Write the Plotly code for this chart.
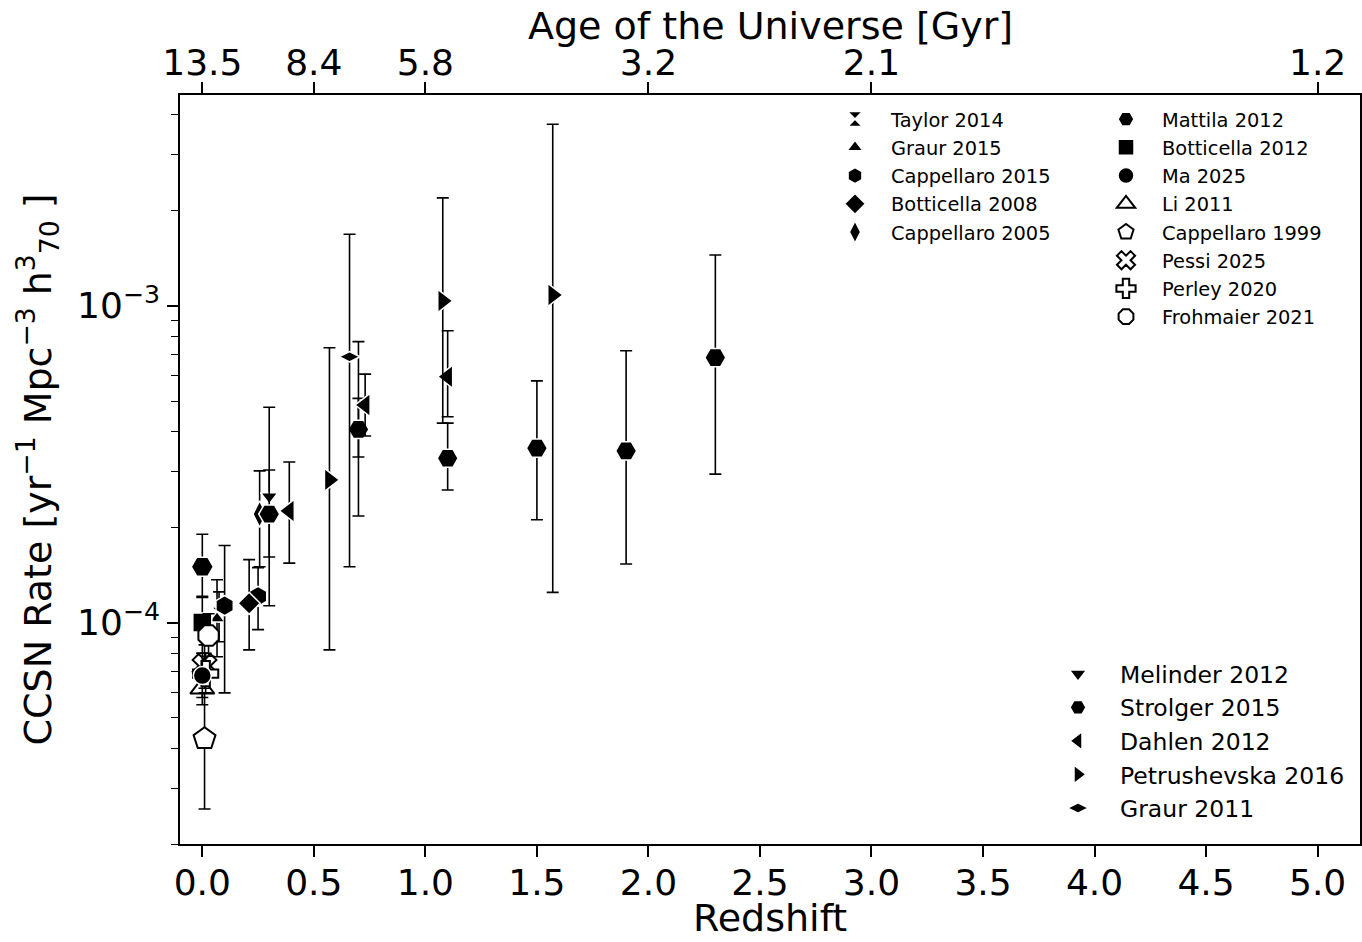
import math
import plotly.graph_objects as go

# Core-collapse supernova rate measurements, in units of 1e-4 yr^-1 Mpc^-3 h70^3.
# For each survey: redshift, rate, upper end and lower end of the error bar.
UNIT = 1e-4

taylor2014_z = [0.075]
taylor2014_rate = [1.06]
taylor2014_hi = [1.25]
taylor2014_lo = [0.87]

graur2015_z = [0.066]
graur2015_rate = [1.03]
graur2015_hi = [1.365]
graur2015_lo = [0.78]

cappellaro2015_z = [0.1, 0.25]
cappellaro2015_rate = [1.13, 1.21]
cappellaro2015_hi = [1.75, 1.49]
cappellaro2015_lo = [0.60, 0.95]

botticella2008_z = [0.21]
botticella2008_rate = [1.15]
botticella2008_hi = [1.58]
botticella2008_lo = [0.82]

cappellaro2005_z = [0.257]
cappellaro2005_rate = [2.20]
cappellaro2005_hi = [3.01]
cappellaro2005_lo = [1.50]

mattila2012_z = [0.0]
mattila2012_rate = [1.50]
mattila2012_hi = [1.90]
mattila2012_lo = [1.21]

botticella2012_z = [0.0]
botticella2012_rate = [1.00]
botticella2012_hi = [1.20]
botticella2012_lo = [0.80]

ma2025_z = [0.0]
ma2025_rate = [0.68]
ma2025_hi = [0.80]
ma2025_lo = [0.58]

li2011_z = [0.0]
li2011_rate = [0.62]
li2011_hi = [0.69]
li2011_lo = [0.55]

cappellaro1999_z = [0.01]
cappellaro1999_rate = [0.43]
cappellaro1999_hi = [0.60]
cappellaro1999_lo = [0.258]

pessi2025_z = [0.01]
pessi2025_rate = [0.73]
pessi2025_hi = [0.85]
pessi2025_lo = [0.62]

perley2020_z = [0.015]
perley2020_rate = [0.69]
perley2020_hi = [0.80]
perley2020_lo = [0.60]

frohmaier2021_z = [0.028]
frohmaier2021_rate = [0.91]
frohmaier2021_hi = [1.066]
frohmaier2021_lo = [0.783]

melinder2012_z = [0.3, 0.7]
melinder2012_rate = [2.50, 4.20]
melinder2012_hi = [3.03, 7.70]
melinder2012_lo = [1.61, 2.17]

strolger2015_z = [0.3, 0.7, 1.1, 1.5, 1.9, 2.3]
strolger2015_rate = [2.20, 4.07, 3.30, 3.55, 3.48, 6.86]
strolger2015_hi = [4.78, 5.10, 4.26, 5.79, 7.21, 14.45]
strolger2015_lo = [1.13, 3.33, 2.62, 2.11, 1.53, 2.94]

dahlen2012_z = [0.39, 0.73, 1.1]
dahlen2012_rate = [2.25, 4.86, 5.97]
dahlen2012_hi = [3.21, 6.08, 8.34]
dahlen2012_lo = [1.54, 3.88, 4.46]

petrushevska2016_z = [0.57, 1.078, 1.571]
petrushevska2016_rate = [2.82, 10.35, 10.81]
petrushevska2016_hi = [7.37, 21.9, 37.4]
petrushevska2016_lo = [0.82, 4.26, 1.245]

graur2011_z = [0.66]
graur2011_rate = [6.9]
graur2011_hi = [16.8]
graur2011_lo = [1.5]

# Top axis: redshift positions and the corresponding age of the Universe
age_tick_z = [0.0, 0.5, 1.0, 2.0, 3.0, 5.0]
age_tick_text = ["13.5", "8.4", "5.8", "3.2", "2.1", "1.2"]

redshift_ticks = [0.0, 0.5, 1.0, 1.5, 2.0, 2.5, 3.0, 3.5, 4.0, 4.5, 5.0]
rate_ticks = [1e-4, 1e-3]
rate_tick_text = ["10<sup>−4</sup>", "10<sup>−3</sup>"]

FONT = "DejaVu Sans"
fig = go.Figure()


def add_series(name, rank, z, rate, hi, lo, symbol, size, filled=True, legend="legend", xaxis="x"):
    y = [r * UNIT for r in rate]
    plus = [(h - r) * UNIT for h, r in zip(hi, rate)]
    minus = [(r - l) * UNIT for r, l in zip(rate, lo)]
    if filled:
        marker = dict(symbol=symbol, size=size, color="black",
                      line=dict(color="white", width=1.5))
    else:
        marker = dict(symbol=symbol, size=size, color="white",
                      line=dict(color="black", width=2))
    fig.add_trace(go.Scatter(
        x=z, y=y, name=name, mode="markers", marker=marker, xaxis=xaxis,
        error_y=dict(type="data", symmetric=False, array=plus, arrayminus=minus,
                     color="black", thickness=1.6, width=6),
        legend=legend, legendrank=rank,
    ))


add_series("Taylor 2014", 1, taylor2014_z, taylor2014_rate, taylor2014_hi, taylor2014_lo, "hourglass", 15)
add_series("Graur 2015", 2, graur2015_z, graur2015_rate, graur2015_hi, graur2015_lo, "triangle-up", 14)
add_series("Cappellaro 2015", 3, cappellaro2015_z, cappellaro2015_rate, cappellaro2015_hi, cappellaro2015_lo, "hexagon", 20)
add_series("Botticella 2008", 4, botticella2008_z, botticella2008_rate, botticella2008_hi, botticella2008_lo, "diamond", 17)
add_series("Cappellaro 2005", 5, cappellaro2005_z, cappellaro2005_rate, cappellaro2005_hi, cappellaro2005_lo, "diamond-tall", 19)

add_series("Mattila 2012", 6, mattila2012_z, mattila2012_rate, mattila2012_hi, mattila2012_lo, "hexagon2", 22, legend="legend2")
add_series("Botticella 2012", 7, botticella2012_z, botticella2012_rate, botticella2012_hi, botticella2012_lo, "square", 19, legend="legend2")
add_series("Li 2011", 9, li2011_z, li2011_rate, li2011_hi, li2011_lo, "triangle-up", 21, filled=False, legend="legend2")
add_series("Cappellaro 1999", 10, cappellaro1999_z, cappellaro1999_rate, cappellaro1999_hi, cappellaro1999_lo, "pentagon", 23, filled=False, legend="legend2")
add_series("Pessi 2025", 11, pessi2025_z, pessi2025_rate, pessi2025_hi, pessi2025_lo, "x", 21, filled=False, legend="legend2")
add_series("Perley 2020", 12, perley2020_z, perley2020_rate, perley2020_hi, perley2020_lo, "cross", 21, filled=False, legend="legend2")
# the filled Ma 2025 point sits on top of the open local-universe symbols
add_series("Ma 2025", 8, ma2025_z, ma2025_rate, ma2025_hi, ma2025_lo, "circle", 18, legend="legend2")
add_series("Frohmaier 2021", 13, frohmaier2021_z, frohmaier2021_rate, frohmaier2021_hi, frohmaier2021_lo, "octagon", 22, filled=False, legend="legend2")

add_series("Melinder 2012", 14, melinder2012_z, melinder2012_rate, melinder2012_hi, melinder2012_lo, "triangle-down", 15, legend="legend3")
add_series("Strolger 2015", 15, strolger2015_z, strolger2015_rate, strolger2015_hi, strolger2015_lo, "hexagon2", 21, legend="legend3")
add_series("Dahlen 2012", 16, dahlen2012_z, dahlen2012_rate, dahlen2012_hi, dahlen2012_lo, "triangle-left", 20, legend="legend3")
add_series("Petrushevska 2016", 17, petrushevska2016_z, petrushevska2016_rate, petrushevska2016_hi, petrushevska2016_lo, "triangle-right", 20, legend="legend3")
# plotted against the top axis, which shares the redshift range of the bottom one
add_series("Graur 2011", 18, graur2011_z, graur2011_rate, graur2011_hi, graur2011_lo, "diamond-wide", 15, legend="legend3", xaxis="x2")

# Figure geometry (pixels)
W, H = 1362, 942
ML, MR, MT, MB = 180, 2, 95, 98
PW, PH = W - ML - MR, H - MT - MB


def px_x(px):
    return (px - ML) / PW


def px_y(py):
    return (H - MB - py) / PH


minor_y = [k * 10.0 ** e for e in (-5, -4, -3) for k in range(2, 10)]

axis_common = dict(showline=True, linecolor="black", linewidth=1.6, ticks="outside",
                   tickcolor="black", tickwidth=1.6, ticklen=11, showgrid=False,
                   zeroline=False, automargin=False,
                   tickfont=dict(family=FONT, size=36, color="black"))

title_font = dict(family=FONT, size=38, color="black")

fig.update_layout(
    width=W, height=H,
    margin=dict(l=ML, r=MR, t=MT, b=MB, pad=0, autoexpand=False),
    paper_bgcolor="white", plot_bgcolor="white",
    font=dict(family=FONT, color="black"),
    xaxis=dict(range=[-0.1, 5.19], tickvals=redshift_ticks,
               ticktext=[f"{v:.1f}" for v in redshift_ticks], mirror=True,
               ticklabelstandoff=-5, **axis_common),
    xaxis2=dict(range=[-0.1, 5.19], matches="x", overlaying="x", side="top", anchor="y",
                tickvals=age_tick_z, ticktext=age_tick_text, ticklabelstandoff=-7,
                **axis_common),
    yaxis=dict(type="log", range=[math.log10(2e-5), -2.335], tickvals=rate_ticks,
               ticktext=rate_tick_text, mirror=True,
               minor=dict(tickvals=minor_y, ticks="outside", ticklen=7, tickwidth=1.3,
                          tickcolor="black", showgrid=False),
               title=dict(text="CCSN Rate [yr<sup>−1</sup> Mpc<sup>−3</sup> h<sup>3</sup><sub>70</sub> ]",
                          font=title_font, standoff=14),
               **axis_common),
    annotations=[
        dict(text="Redshift", xref="paper", yref="paper", x=0.5, y=px_y(918),
             xanchor="center", yanchor="middle", showarrow=False, font=title_font),
        dict(text="Age of the Universe [Gyr]", xref="paper", yref="paper", x=0.5, y=px_y(26),
             xanchor="center", yanchor="middle", showarrow=False, font=title_font),
    ],
    legend=dict(x=px_x(819), y=px_y(100), xanchor="left", yanchor="top",
                font=dict(family=FONT, size=19.4), itemwidth=62,
                bgcolor="rgba(0,0,0,0)", borderwidth=0),
    legend2=dict(x=px_x(1090), y=px_y(100), xanchor="left", yanchor="top",
                 font=dict(family=FONT, size=19.4), itemwidth=62,
                 bgcolor="rgba(0,0,0,0)", borderwidth=0),
    legend3=dict(x=px_x(1036), y=px_y(652), xanchor="left", yanchor="top",
                 font=dict(family=FONT, size=23.5), itemwidth=74,
                 bgcolor="rgba(0,0,0,0)", borderwidth=0),
    showlegend=True,
)

fig.write_html("out.html")
